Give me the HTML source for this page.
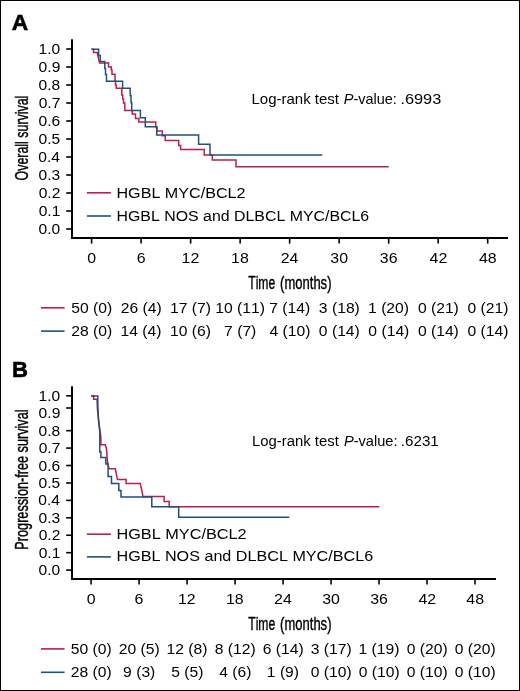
<!DOCTYPE html>
<html><head><meta charset="utf-8"><style>
html,body{margin:0;padding:0;background:#fff;}
body{width:520px;height:691px;overflow:hidden;}
svg{display:block;font-family:"Liberation Sans",sans-serif;font-kerning:none;}
svg{will-change:transform;}
</style></head><body>
<svg width="520" height="691" viewBox="0 0 520 691">
<rect x="0.5" y="0.5" width="519" height="690" fill="#fff" stroke="#000" stroke-width="1"/>
<text transform="translate(11.63,29.50) scale(1.0091,1)" font-size="22.6" fill="#000" stroke="#000" stroke-width="0.6"><tspan font-weight="bold">A</tspan></text>
<line x1="72.00" y1="39.30" x2="72.00" y2="239.00" stroke="#000" stroke-width="2"/>
<line x1="71.00" y1="238.00" x2="508.00" y2="238.00" stroke="#000" stroke-width="2"/>
<line x1="66.20" y1="229.00" x2="72.00" y2="229.00" stroke="#000" stroke-width="1.6"/>
<text transform="translate(38.49,234.10) scale(1.0700,1)" font-size="14.6" fill="#000">0.0</text>
<line x1="66.20" y1="211.00" x2="72.00" y2="211.00" stroke="#000" stroke-width="1.6"/>
<text transform="translate(38.65,216.10) scale(1.0700,1)" font-size="14.6" fill="#000">0.1</text>
<line x1="66.20" y1="193.00" x2="72.00" y2="193.00" stroke="#000" stroke-width="1.6"/>
<text transform="translate(38.67,198.10) scale(1.0700,1)" font-size="14.6" fill="#000">0.2</text>
<line x1="66.20" y1="175.00" x2="72.00" y2="175.00" stroke="#000" stroke-width="1.6"/>
<text transform="translate(38.57,180.10) scale(1.0700,1)" font-size="14.6" fill="#000">0.3</text>
<line x1="66.20" y1="157.00" x2="72.00" y2="157.00" stroke="#000" stroke-width="1.6"/>
<text transform="translate(38.34,162.10) scale(1.0700,1)" font-size="14.6" fill="#000">0.4</text>
<line x1="66.20" y1="139.00" x2="72.00" y2="139.00" stroke="#000" stroke-width="1.6"/>
<text transform="translate(38.54,144.10) scale(1.0700,1)" font-size="14.6" fill="#000">0.5</text>
<line x1="66.20" y1="121.00" x2="72.00" y2="121.00" stroke="#000" stroke-width="1.6"/>
<text transform="translate(38.57,126.10) scale(1.0700,1)" font-size="14.6" fill="#000">0.6</text>
<line x1="66.20" y1="103.00" x2="72.00" y2="103.00" stroke="#000" stroke-width="1.6"/>
<text transform="translate(38.67,108.10) scale(1.0700,1)" font-size="14.6" fill="#000">0.7</text>
<line x1="66.20" y1="85.00" x2="72.00" y2="85.00" stroke="#000" stroke-width="1.6"/>
<text transform="translate(38.56,90.10) scale(1.0700,1)" font-size="14.6" fill="#000">0.8</text>
<line x1="66.20" y1="67.00" x2="72.00" y2="67.00" stroke="#000" stroke-width="1.6"/>
<text transform="translate(38.62,72.10) scale(1.0700,1)" font-size="14.6" fill="#000">0.9</text>
<line x1="66.20" y1="49.00" x2="72.00" y2="49.00" stroke="#000" stroke-width="1.6"/>
<text transform="translate(38.49,54.10) scale(1.0700,1)" font-size="14.6" fill="#000">1.0</text>
<line x1="91.60" y1="238.00" x2="91.60" y2="243.60" stroke="#000" stroke-width="1.6"/>
<text transform="translate(87.17,262.50) scale(1.0900,1)" font-size="14.6" fill="#000">0</text>
<line x1="141.11" y1="238.00" x2="141.11" y2="243.60" stroke="#000" stroke-width="1.6"/>
<text transform="translate(136.63,262.50) scale(1.0900,1)" font-size="14.6" fill="#000">6</text>
<line x1="190.62" y1="238.00" x2="190.62" y2="243.60" stroke="#000" stroke-width="1.6"/>
<text transform="translate(181.57,262.50) scale(1.0900,1)" font-size="14.6" fill="#000">12</text>
<line x1="240.14" y1="238.00" x2="240.14" y2="243.60" stroke="#000" stroke-width="1.6"/>
<text transform="translate(231.03,262.50) scale(1.0900,1)" font-size="14.6" fill="#000">18</text>
<line x1="289.65" y1="238.00" x2="289.65" y2="243.60" stroke="#000" stroke-width="1.6"/>
<text transform="translate(280.63,262.50) scale(1.0900,1)" font-size="14.6" fill="#000">24</text>
<line x1="339.16" y1="238.00" x2="339.16" y2="243.60" stroke="#000" stroke-width="1.6"/>
<text transform="translate(330.32,262.50) scale(1.0900,1)" font-size="14.6" fill="#000">30</text>
<line x1="388.67" y1="238.00" x2="388.67" y2="243.60" stroke="#000" stroke-width="1.6"/>
<text transform="translate(379.87,262.50) scale(1.0900,1)" font-size="14.6" fill="#000">36</text>
<line x1="438.19" y1="238.00" x2="438.19" y2="243.60" stroke="#000" stroke-width="1.6"/>
<text transform="translate(429.55,262.50) scale(1.0900,1)" font-size="14.6" fill="#000">42</text>
<line x1="487.70" y1="238.00" x2="487.70" y2="243.60" stroke="#000" stroke-width="1.6"/>
<text transform="translate(479.01,262.50) scale(1.0900,1)" font-size="14.6" fill="#000">48</text>
<text transform="translate(248.23,288.60) scale(0.6536,1)" font-size="18.6" fill="#000" stroke="#000" stroke-width="0.4">Time</text>
<text transform="translate(280.09,288.60) scale(0.7007,1)" font-size="18.6" fill="#000" stroke="#000" stroke-width="0.4">(months)</text>
<text transform="translate(27.60,180.39) rotate(-90) scale(0.6664,1)" font-size="18.6" fill="#000" stroke="#000" stroke-width="0.4">Overall survival</text>
<text transform="translate(251.47,103.90) scale(1.0146,1)" font-size="14.8" fill="#000">Log-rank test</text>
<text transform="translate(343.75,103.90) scale(0.9793,1)" font-size="14.8" fill="#000"><tspan font-style="italic">P</tspan>-value:</text>
<text transform="translate(400.41,103.90) scale(1.1046,1)" font-size="14.8" fill="#000">.6993</text>
<line x1="86.90" y1="192.80" x2="110.90" y2="192.80" stroke="#bb1e47" stroke-width="1.6"/>
<line x1="86.90" y1="216.00" x2="110.90" y2="216.00" stroke="#21507f" stroke-width="1.6"/>
<text transform="translate(116.48,197.50) scale(1.0687,1)" font-size="15.1" fill="#000">HGBL MYC/BCL2</text>
<text transform="translate(116.50,220.50) scale(1.0533,1)" font-size="15.1" fill="#000">HGBL NOS and DLBCL MYC/BCL6</text>
<line x1="41.00" y1="307.80" x2="64.60" y2="307.80" stroke="#bb1e47" stroke-width="1.6"/>
<line x1="41.00" y1="331.10" x2="64.60" y2="331.10" stroke="#21507f" stroke-width="1.6"/>
<text transform="translate(71.29,312.60) scale(1.1200,1)" font-size="14.0" fill="#000">50 (0)</text>
<text transform="translate(120.72,312.60) scale(1.1200,1)" font-size="14.0" fill="#000">26 (4)</text>
<text transform="translate(170.03,312.60) scale(1.1200,1)" font-size="14.0" fill="#000">17 (7)</text>
<text transform="translate(215.19,312.60) scale(1.1200,1)" font-size="14.0" fill="#000">10 (11)</text>
<text transform="translate(269.25,312.60) scale(1.1200,1)" font-size="14.0" fill="#000">7 (14)</text>
<text transform="translate(318.87,312.60) scale(1.1200,1)" font-size="14.0" fill="#000">3 (18)</text>
<text transform="translate(368.08,312.60) scale(1.1200,1)" font-size="14.0" fill="#000">1 (20)</text>
<text transform="translate(417.89,312.60) scale(1.1200,1)" font-size="14.0" fill="#000">0 (21)</text>
<text transform="translate(467.40,312.60) scale(1.1200,1)" font-size="14.0" fill="#000">0 (21)</text>
<text transform="translate(71.21,335.80) scale(1.1200,1)" font-size="14.0" fill="#000">28 (0)</text>
<text transform="translate(120.52,335.80) scale(1.1200,1)" font-size="14.0" fill="#000">14 (4)</text>
<text transform="translate(170.03,335.80) scale(1.1200,1)" font-size="14.0" fill="#000">10 (6)</text>
<text transform="translate(224.10,335.80) scale(1.1200,1)" font-size="14.0" fill="#000">7 (7)</text>
<text transform="translate(269.48,335.80) scale(1.1200,1)" font-size="14.0" fill="#000">4 (10)</text>
<text transform="translate(318.86,335.80) scale(1.1200,1)" font-size="14.0" fill="#000">0 (14)</text>
<text transform="translate(368.37,335.80) scale(1.1200,1)" font-size="14.0" fill="#000">0 (14)</text>
<text transform="translate(417.89,335.80) scale(1.1200,1)" font-size="14.0" fill="#000">0 (14)</text>
<text transform="translate(467.40,335.80) scale(1.1200,1)" font-size="14.0" fill="#000">0 (14)</text>
<path d="M91.5,49.2 L93.5,49.2 L93.5,52.6 L97.2,52.6 L98.2,57.0 L99.5,63.0 L108.5,63.0 L108.5,66.9 L111.3,66.9 L111.3,70.0 L112.0,70.0 L112.0,74.3 L115.0,74.3 L115.0,81.0 L115.5,81.0 L115.5,85.0 L116.3,85.0 L116.3,88.3 L121.8,88.3 L121.8,95.0 L122.7,95.0 L122.7,99.0 L123.5,99.0 L123.5,103.0 L124.8,103.0 L124.8,110.4 L132.3,110.4 L132.3,114.1 L135.5,114.1 L135.5,118.4 L138.8,118.4 L138.8,122.0 L155.7,122.0 L155.7,126.7 L156.9,126.7 L156.9,131.0 L162.3,131.0 L162.3,135.7 L165.2,135.7 L165.2,140.5 L178.7,140.5 L178.7,145.4 L180.6,145.4 L180.6,149.6 L204.2,149.6 L204.2,154.9 L212.3,154.9 L212.3,160.1 L236.0,160.1 L236.0,166.8 L388.8,166.8" fill="none" stroke="#bb1e47" stroke-width="1.5" stroke-linejoin="miter" stroke-miterlimit="2"/>
<path d="M91.5,49.2 L98.6,49.2 L98.6,55.6 L100.2,55.6 L100.2,61.4 L104.8,61.4 L104.8,68.5 L105.5,68.5 L105.5,74.6 L106.5,74.6 L106.5,81.2 L122.6,81.2 L122.6,88.3 L130.2,88.3 L130.2,95.5 L131.0,95.5 L131.0,102.5 L131.7,102.5 L131.7,110.4 L140.4,110.4 L140.4,117.7 L145.3,117.7 L145.3,126.7 L156.7,126.7 L156.7,135.0 L198.6,135.0 L198.6,144.3 L210.0,144.3 L210.0,155.0 L322.3,155.0" fill="none" stroke="#21507f" stroke-width="1.5" stroke-linejoin="miter" stroke-miterlimit="2"/>
<text transform="translate(11.92,376.50) scale(0.9795,1)" font-size="22.6" fill="#000" stroke="#000" stroke-width="0.6"><tspan font-weight="bold">B</tspan></text>
<line x1="72.00" y1="386.30" x2="72.00" y2="580.00" stroke="#000" stroke-width="2"/>
<line x1="71.00" y1="579.00" x2="496.00" y2="579.00" stroke="#000" stroke-width="2"/>
<line x1="66.20" y1="570.10" x2="72.00" y2="570.10" stroke="#000" stroke-width="1.6"/>
<text transform="translate(38.49,575.20) scale(1.0700,1)" font-size="14.6" fill="#000">0.0</text>
<line x1="66.20" y1="552.67" x2="72.00" y2="552.67" stroke="#000" stroke-width="1.6"/>
<text transform="translate(38.65,557.77) scale(1.0700,1)" font-size="14.6" fill="#000">0.1</text>
<line x1="66.20" y1="535.24" x2="72.00" y2="535.24" stroke="#000" stroke-width="1.6"/>
<text transform="translate(38.67,540.34) scale(1.0700,1)" font-size="14.6" fill="#000">0.2</text>
<line x1="66.20" y1="517.81" x2="72.00" y2="517.81" stroke="#000" stroke-width="1.6"/>
<text transform="translate(38.57,522.91) scale(1.0700,1)" font-size="14.6" fill="#000">0.3</text>
<line x1="66.20" y1="500.38" x2="72.00" y2="500.38" stroke="#000" stroke-width="1.6"/>
<text transform="translate(38.34,505.48) scale(1.0700,1)" font-size="14.6" fill="#000">0.4</text>
<line x1="66.20" y1="482.95" x2="72.00" y2="482.95" stroke="#000" stroke-width="1.6"/>
<text transform="translate(38.54,488.05) scale(1.0700,1)" font-size="14.6" fill="#000">0.5</text>
<line x1="66.20" y1="465.52" x2="72.00" y2="465.52" stroke="#000" stroke-width="1.6"/>
<text transform="translate(38.57,470.62) scale(1.0700,1)" font-size="14.6" fill="#000">0.6</text>
<line x1="66.20" y1="448.09" x2="72.00" y2="448.09" stroke="#000" stroke-width="1.6"/>
<text transform="translate(38.67,453.19) scale(1.0700,1)" font-size="14.6" fill="#000">0.7</text>
<line x1="66.20" y1="430.66" x2="72.00" y2="430.66" stroke="#000" stroke-width="1.6"/>
<text transform="translate(38.56,435.76) scale(1.0700,1)" font-size="14.6" fill="#000">0.8</text>
<line x1="66.20" y1="408.00" x2="72.00" y2="408.00" stroke="#000" stroke-width="1.6"/>
<text transform="translate(38.62,418.33) scale(1.0700,1)" font-size="14.6" fill="#000">0.9</text>
<line x1="66.20" y1="395.80" x2="72.00" y2="395.80" stroke="#000" stroke-width="1.6"/>
<text transform="translate(38.49,400.90) scale(1.0700,1)" font-size="14.6" fill="#000">1.0</text>
<line x1="91.10" y1="579.00" x2="91.10" y2="584.60" stroke="#000" stroke-width="1.6"/>
<text transform="translate(86.67,604.00) scale(1.0900,1)" font-size="14.6" fill="#000">0</text>
<line x1="139.09" y1="579.00" x2="139.09" y2="584.60" stroke="#000" stroke-width="1.6"/>
<text transform="translate(134.61,604.00) scale(1.0900,1)" font-size="14.6" fill="#000">6</text>
<line x1="187.07" y1="579.00" x2="187.07" y2="584.60" stroke="#000" stroke-width="1.6"/>
<text transform="translate(178.02,604.00) scale(1.0900,1)" font-size="14.6" fill="#000">12</text>
<line x1="235.06" y1="579.00" x2="235.06" y2="584.60" stroke="#000" stroke-width="1.6"/>
<text transform="translate(225.95,604.00) scale(1.0900,1)" font-size="14.6" fill="#000">18</text>
<line x1="283.05" y1="579.00" x2="283.05" y2="584.60" stroke="#000" stroke-width="1.6"/>
<text transform="translate(274.03,604.00) scale(1.0900,1)" font-size="14.6" fill="#000">24</text>
<line x1="331.04" y1="579.00" x2="331.04" y2="584.60" stroke="#000" stroke-width="1.6"/>
<text transform="translate(322.19,604.00) scale(1.0900,1)" font-size="14.6" fill="#000">30</text>
<line x1="379.02" y1="579.00" x2="379.02" y2="584.60" stroke="#000" stroke-width="1.6"/>
<text transform="translate(370.22,604.00) scale(1.0900,1)" font-size="14.6" fill="#000">36</text>
<line x1="427.01" y1="579.00" x2="427.01" y2="584.60" stroke="#000" stroke-width="1.6"/>
<text transform="translate(418.38,604.00) scale(1.0900,1)" font-size="14.6" fill="#000">42</text>
<line x1="475.00" y1="579.00" x2="475.00" y2="584.60" stroke="#000" stroke-width="1.6"/>
<text transform="translate(466.31,604.00) scale(1.0900,1)" font-size="14.6" fill="#000">48</text>
<text transform="translate(248.23,629.60) scale(0.6536,1)" font-size="18.6" fill="#000" stroke="#000" stroke-width="0.4">Time</text>
<text transform="translate(280.09,629.60) scale(0.7007,1)" font-size="18.6" fill="#000" stroke="#000" stroke-width="0.4">(months)</text>
<text transform="translate(27.60,549.64) rotate(-90) scale(0.6820,1)" font-size="18.6" fill="#000" stroke="#000" stroke-width="0.4">Progression-free survival</text>
<text transform="translate(251.98,446.30) scale(1.0064,1)" font-size="14.8" fill="#000">Log-rank test</text>
<text transform="translate(343.95,446.30) scale(0.9869,1)" font-size="14.8" fill="#000"><tspan font-style="italic">P</tspan>-value:</text>
<text transform="translate(400.81,446.30) scale(1.0268,1)" font-size="14.8" fill="#000">.6231</text>
<line x1="86.90" y1="534.20" x2="110.90" y2="534.20" stroke="#bb1e47" stroke-width="1.6"/>
<line x1="86.90" y1="556.90" x2="110.90" y2="556.90" stroke="#21507f" stroke-width="1.6"/>
<text transform="translate(116.46,538.60) scale(1.0779,1)" font-size="15.1" fill="#000">HGBL MYC/BCL2</text>
<text transform="translate(116.47,561.40) scale(1.0705,1)" font-size="15.1" fill="#000">HGBL NOS and DLBCL MYC/BCL6</text>
<line x1="41.00" y1="648.90" x2="64.60" y2="648.90" stroke="#bb1e47" stroke-width="1.6"/>
<line x1="41.00" y1="672.30" x2="64.60" y2="672.30" stroke="#21507f" stroke-width="1.6"/>
<text transform="translate(70.79,653.70) scale(1.1200,1)" font-size="14.0" fill="#000">50 (0)</text>
<text transform="translate(118.70,653.70) scale(1.1200,1)" font-size="14.0" fill="#000">20 (5)</text>
<text transform="translate(166.48,653.70) scale(1.1200,1)" font-size="14.0" fill="#000">12 (8)</text>
<text transform="translate(214.73,653.70) scale(1.1200,1)" font-size="14.0" fill="#000">8 (12)</text>
<text transform="translate(262.66,653.70) scale(1.1200,1)" font-size="14.0" fill="#000">6 (14)</text>
<text transform="translate(310.74,653.70) scale(1.1200,1)" font-size="14.0" fill="#000">3 (17)</text>
<text transform="translate(358.43,653.70) scale(1.1200,1)" font-size="14.0" fill="#000">1 (19)</text>
<text transform="translate(406.71,653.70) scale(1.1200,1)" font-size="14.0" fill="#000">0 (20)</text>
<text transform="translate(454.70,653.70) scale(1.1200,1)" font-size="14.0" fill="#000">0 (20)</text>
<text transform="translate(70.71,677.20) scale(1.1200,1)" font-size="14.0" fill="#000">28 (0)</text>
<text transform="translate(123.09,677.20) scale(1.1200,1)" font-size="14.0" fill="#000">9 (3)</text>
<text transform="translate(171.13,677.20) scale(1.1200,1)" font-size="14.0" fill="#000">5 (5)</text>
<text transform="translate(219.25,677.20) scale(1.1200,1)" font-size="14.0" fill="#000">4 (6)</text>
<text transform="translate(266.82,677.20) scale(1.1200,1)" font-size="14.0" fill="#000">1 (9)</text>
<text transform="translate(310.74,677.20) scale(1.1200,1)" font-size="14.0" fill="#000">0 (10)</text>
<text transform="translate(358.72,677.20) scale(1.1200,1)" font-size="14.0" fill="#000">0 (10)</text>
<text transform="translate(406.71,677.20) scale(1.1200,1)" font-size="14.0" fill="#000">0 (10)</text>
<text transform="translate(454.70,677.20) scale(1.1200,1)" font-size="14.0" fill="#000">0 (10)</text>
<path d="M91.1,395.9 L93.6,395.9 L93.6,399.2 L97.0,399.2 L97.5,410.0 L99.2,425.0 L100.9,437.0 L100.9,444.7 L105.3,444.7 L106.5,449.0 L107.5,462.0 L109.0,468.8 L115.3,468.8 L117.5,479.6 L126.1,479.6 L126.1,483.5 L140.3,483.5 L141.5,489.0 L143.0,496.6 L164.1,496.6 L164.1,501.4 L169.2,501.4 L169.2,506.8 L379.3,506.8" fill="none" stroke="#bb1e47" stroke-width="1.5" stroke-linejoin="miter" stroke-miterlimit="2"/>
<path d="M91.1,395.9 L97.8,395.9 L97.8,405.0 L98.5,420.0 L99.8,432.0 L99.8,452.0 L100.9,452.0 L100.9,457.5 L105.8,457.5 L105.8,464.1 L108.1,464.1 L108.1,476.4 L111.5,476.4 L111.5,483.5 L118.8,483.5 L118.8,490.4 L121.0,490.4 L121.0,497.1 L151.8,497.1 L151.8,506.8 L178.7,506.8 L178.7,517.2 L289.3,517.2" fill="none" stroke="#1f4e7e" stroke-width="1.5" stroke-linejoin="miter" stroke-miterlimit="2"/>
</svg>
</body></html>
